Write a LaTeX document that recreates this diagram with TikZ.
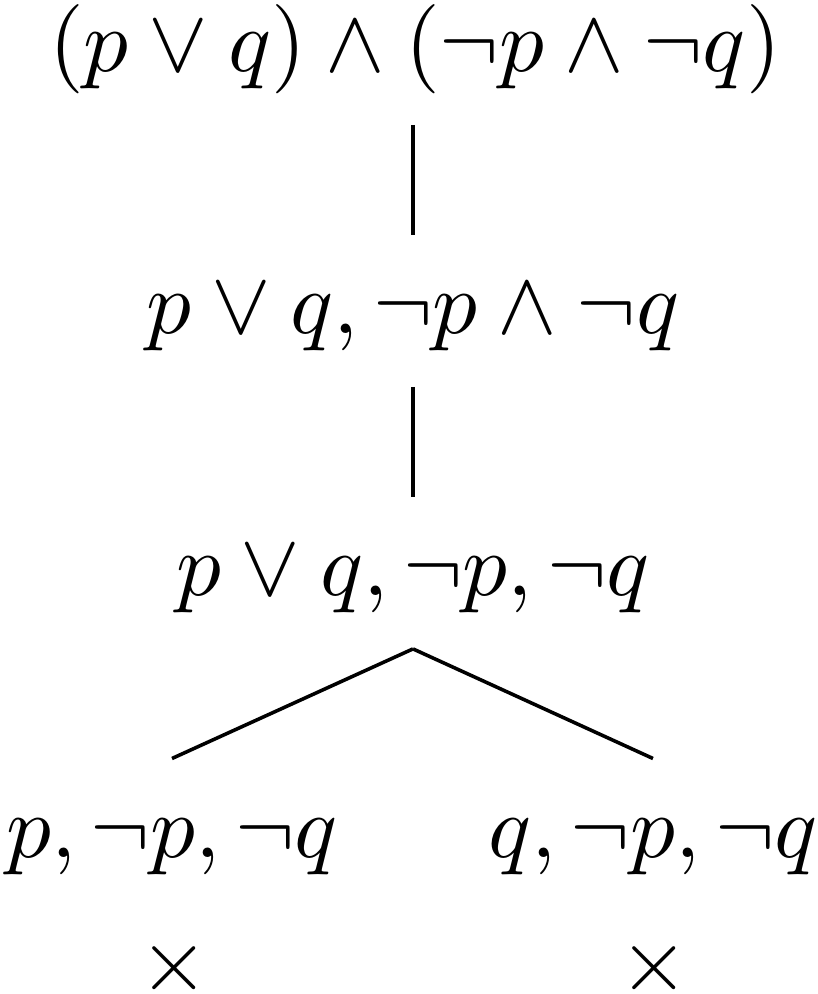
\documentclass[tikz,border=0pt]{standalone}
\begin{document}
\begin{tikzpicture}[x=0.11198pt,y=-0.11198pt,
  fml/.style={anchor=base,text height=7.5pt,text depth=2.5pt,inner sep=0.3333em},
  closed/.style={anchor=center,inner sep=0pt}]
\useasboundingbox (0,0) rectangle (818,994);
\node[fml,text height=4pt] (n1) at (415,71) {$(p\vee q)\wedge(\neg p\wedge\neg q)$};
\node[fml] (n2) at (413,333) {$p\vee q,\neg p\wedge\neg q$};
\node[fml] (n3) at (413,595) {$p\vee q,\neg p,\neg q$};
\node[fml] (l1) at (172,857) {$p,\neg p,\neg q$};
\node[fml] (l2) at (653,857) {$q,\neg p,\neg q$};
\node[closed] (x1) at (174,968) {$\times$};
\node[closed] (x2) at (654,968) {$\times$};
\draw (n1.south -| n2.north) -- (n2.north);
\draw (n2.south) -- (n3.north);
\draw (n3.south) -- (l1.north);
\draw (n3.south) -- (l2.north);
\end{tikzpicture}
\end{document}
